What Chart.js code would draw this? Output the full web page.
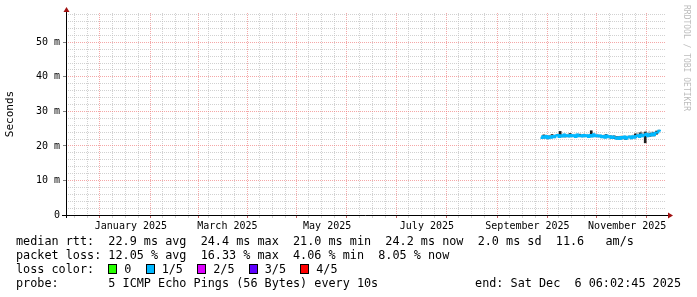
<!DOCTYPE html>
<html>
<head>
<meta charset="utf-8">
<script src="https://cdn.jsdelivr.net/npm/chart.js@4.4.1/dist/chart.umd.min.js"></script>
<style>
html, body { margin: 0; padding: 0; background: #fff; }
#wrap { position: relative; width: 697px; height: 297px; overflow: hidden; }
canvas { position: absolute; left: 0; top: 0; }
.txt { position: absolute; font: 11.8px 'DejaVu Sans Mono', monospace; line-height: 14px; white-space: pre; color: #000; }
.box { display: inline-block; width: 7px; height: 8px; border: 1px solid #000; margin-right: 7px; vertical-align: -1px; }
#mark { position: absolute; left: 682px; top: 5px; writing-mode: vertical-rl; font: 8px 'DejaVu Sans Mono', monospace; color: #bcbcbc; white-space: pre; }
</style>
</head>
<body>
<div id="wrap">
  <canvas id="myChart" width="697" height="297"></canvas>
  <div id="mark">RRDTOOL / TOBI OETIKER</div>
  <div class="txt" style="left:16px;top:234px">median rtt:  22.9 ms avg  24.4 ms max  21.0 ms min  24.2 ms now  2.0 ms sd  11.6   am/s</div>
  <div class="txt" style="left:16px;top:248px">packet loss: 12.05 % avg  16.33 % max  4.06 % min  8.05 % now</div>
  <div class="txt" style="left:16px;top:262px" id="losscolor"></div>
  <div class="txt" style="left:16px;top:276px">probe:       5 ICMP Echo Pings (56 Bytes) every 10s</div>
  <div class="txt" style="right:16px;top:276px">end: Sat Dec  6 06:02:45 2025</div>
</div>
<script>
// time axis: 360 days ending at the graph end time
const endTime = Date.UTC(2025, 11, 6, 6, 2, 45)
const spanDays = 360

const monthStarts = ['2024-12-01','2025-01-01','2025-02-01','2025-03-01','2025-04-01','2025-05-01','2025-06-01',
  '2025-07-01','2025-08-01','2025-09-01','2025-10-01','2025-11-01','2025-12-01']
const monthLabels = ['January 2025', 'March 2025', 'May 2025', 'July 2025', 'September 2025', 'November 2025']
const labelMonths = ['2025-01-01','2025-03-01','2025-05-01','2025-07-01','2025-09-01','2025-11-01']
const minorDays = [9, 17, 25]

const yMajor = [0, 10, 20, 30, 40, 50]
const yLabels = ['0', '10 m', '20 m', '30 m', '40 m', '50 m']
const yMax = 58.5

const lossNames = ['0', '1/5', '2/5', '3/5', '4/5']
const lossColors = ['#26ff00', '#00b8ff', '#dd00ff', '#5e00ff', '#ff0000']

// median rtt (ms), one sample per day
const dates = [
 '2025-09-24','2025-09-25','2025-09-26','2025-09-27','2025-09-28','2025-09-29','2025-09-30',
 '2025-10-01','2025-10-02','2025-10-03','2025-10-04','2025-10-05','2025-10-06','2025-10-07','2025-10-08','2025-10-09','2025-10-10',
 '2025-10-11','2025-10-12','2025-10-13','2025-10-14','2025-10-15','2025-10-16','2025-10-17','2025-10-18','2025-10-19','2025-10-20',
 '2025-10-21','2025-10-22','2025-10-23','2025-10-24','2025-10-25','2025-10-26','2025-10-27','2025-10-28','2025-10-29','2025-10-30','2025-10-31',
 '2025-11-01','2025-11-02','2025-11-03','2025-11-04','2025-11-05','2025-11-06','2025-11-07','2025-11-08','2025-11-09','2025-11-10',
 '2025-11-11','2025-11-12','2025-11-13','2025-11-14','2025-11-15','2025-11-16','2025-11-17','2025-11-18','2025-11-19','2025-11-20',
 '2025-11-21','2025-11-22','2025-11-23','2025-11-24','2025-11-25','2025-11-26','2025-11-27','2025-11-28','2025-11-29','2025-11-30',
 '2025-12-01','2025-12-02','2025-12-03','2025-12-04','2025-12-05','2025-12-06']
const median = [
 22.3, 22.8, 22.4, 22.9, 22.2, 22.7, 22.4,
 22.9, 22.5, 23.0, 23.2, 22.6, 23.1, 22.7, 23.3, 22.8, 23.1,
 22.7, 23.2, 22.8, 23.1, 22.6, 23.3, 22.8, 23.1, 22.7, 23.2,
 22.8, 23.1, 22.6, 23.2, 22.7, 23.4, 22.8, 23.1, 22.7, 23.0, 22.5,
 22.9, 22.4, 23.0, 22.5, 22.8, 22.3, 22.7, 22.4, 22.1, 22.5,
 22.0, 22.6, 22.2, 22.7, 22.1, 22.5, 22.7, 22.2, 22.8, 22.4,
 22.9, 23.1, 22.6, 23.3, 22.8, 23.2, 23.5, 22.8, 23.4, 23.0,
 23.6, 23.1, 23.8, 23.9, 24.4, 24.2]
const smokeHi = [
 22.9, 23.2, 23.0, 23.3, 22.8, 23.1, 23.0,
 23.3, 23.1, 23.4, 23.6, 23.2, 23.5, 23.3, 23.7, 23.4, 23.5,
 23.3, 23.6, 23.4, 23.5, 23.2, 23.7, 23.4, 23.5, 23.3, 23.6,
 23.4, 23.5, 23.2, 23.6, 23.3, 23.8, 23.4, 23.5, 23.3, 23.4, 23.1,
 23.3, 23.0, 23.4, 23.1, 23.2, 22.9, 23.1, 23.0, 22.8, 22.9,
 22.7, 23.0, 22.9, 23.1, 22.8, 23.0, 23.2, 23.0, 23.3, 23.2,
 23.6, 24.0, 23.7, 24.3, 24.0, 24.2, 24.5, 24.0, 24.4, 24.1,
 24.3, 24.0, 24.4, 24.5, 24.8, 24.7]
const smokeLo = [
 22.0, 22.3, 22.1, 22.4, 21.9, 22.2, 22.1,
 22.4, 22.2, 22.5, 22.7, 22.3, 22.6, 22.4, 22.8, 22.5, 22.6,
 22.4, 22.7, 22.5, 22.6, 22.3, 22.8, 22.5, 22.6, 22.4, 22.7,
 22.5, 22.6, 22.3, 22.7, 22.4, 22.9, 22.5, 22.6, 22.4, 22.5, 22.2,
 22.4, 22.1, 22.5, 22.2, 22.3, 22.0, 22.2, 22.1, 21.8, 22.0,
 21.7, 22.1, 21.9, 22.2, 21.8, 22.0, 22.2, 21.9, 22.3, 22.1,
 22.4, 22.6, 22.3, 22.8, 22.5, 22.7, 23.0, 22.5, 22.9, 22.7,
 23.1, 22.8, 23.3, 23.5, 23.9, 23.8]

// dark smoke streaks
const spikeDates = ['2025-09-26','2025-09-29','2025-10-01','2025-10-06','2025-10-09','2025-10-12','2025-10-18','2025-10-25',
  '2025-11-03','2025-11-06','2025-11-08','2025-11-10','2025-11-12','2025-11-15','2025-11-21','2025-11-24','2025-11-27','2025-11-30','2025-12-02','2025-12-04']
const spikeLo = [22.3, 22.2, 22.5, 22.6, 22.6, 22.8, 22.7, 22.7, 22.4, 22.2, 22.1, 22.0, 22.0, 21.9, 22.5, 22.8, 20.9, 22.8, 22.9, 23.4]
const spikeHi = [23.2, 22.9, 23.3, 24.2, 23.2, 23.6, 23.4, 24.4, 23.3, 22.9, 22.9, 22.7, 22.8, 22.6, 23.5, 23.8, 24.0, 23.6, 23.8, 24.3]

const startTime = endTime - spanDays * 86400000
function toDay(s) {
    return (Date.parse(s + 'T00:00:00Z') - startTime) / 86400000
}

// legend boxes
let lc = 'loss color:  '
lossNames.forEach((n, i) => {
    lc += '<span class="box" style="background:' + lossColors[i] + '"></span>' + n + '  '
})
document.getElementById('losscolor').innerHTML = lc

// x ticks: minor lines inside each month, major lines at month start, labels mid-month
const xTicks = []
monthStarts.forEach((m, k) => {
    const v = toDay(m)
    if (v > 0) xTicks.push({ v: v, kind: 'major', label: '' })
    minorDays.forEach(d => {
        const mv = v + d - 1
        if (mv > 0 && mv < spanDays) xTicks.push({ v: mv, kind: 'minor', label: '' })
    })
})
labelMonths.forEach((m, i) => {
    const k = monthStarts.indexOf(m)
    const mid = (toDay(monthStarts[k]) + toDay(monthStarts[k + 1])) / 2
    xTicks.push({ v: mid, kind: 'label', label: monthLabels[i] })
})

const yTicks = []
for (let v = 0; v < yMax; v += 2) yTicks.push(v)

const minorColor = 'rgba(190,190,190,0.7)'
const majorColor = 'rgba(240,120,120,0.65)'

const axesPlugin = {
    id: 'axes',
    afterDatasetsDraw(chart) {
        const { ctx, chartArea: a } = chart
        ctx.save()
        ctx.strokeStyle = '#000'
        ctx.lineWidth = 1
        ctx.beginPath()
        ctx.moveTo(a.left - 4, a.bottom + 0.5)
        ctx.lineTo(a.right + 3, a.bottom + 0.5)
        ctx.moveTo(a.left + 0.5, a.bottom + 3)
        ctx.lineTo(a.left + 0.5, a.top - 3)
        ctx.stroke()
        ctx.fillStyle = '#a01010'
        ctx.beginPath()
        ctx.moveTo(a.right + 2, a.bottom - 2.5)
        ctx.lineTo(a.right + 7, a.bottom + 0.5)
        ctx.lineTo(a.right + 2, a.bottom + 3.5)
        ctx.fill()
        ctx.beginPath()
        ctx.moveTo(a.left - 2.5, a.top - 1)
        ctx.lineTo(a.left + 0.5, a.top - 6)
        ctx.lineTo(a.left + 3.5, a.top - 1)
        ctx.fill()
        ctx.restore()
    }
}

Chart.defaults.font.family = "'DejaVu Sans Mono', monospace"

const ctx = document.getElementById('myChart')
const myChart = new Chart(ctx, {
    type: 'line',
    data: {
        datasets: [{
            label: 'median',
            data: dates.map((d, i) => ({ x: toDay(d), y: median[i] })),
            borderColor: lossColors[1],
            borderWidth: 2,
            pointRadius: 0,
            stepped: true,
            order: 0
        }, {
            type: 'bar',
            label: 'dark smoke',
            data: spikeDates.map((d, i) => ({ x: toDay(d), y: [spikeLo[i], spikeHi[i]] })),
            backgroundColor: '#1e1e1e',
            barThickness: 2,
            order: 1
        }, {
            label: 'smoke hi',
            data: dates.map((d, i) => ({ x: toDay(d), y: smokeHi[i] })),
            borderWidth: 0,
            pointRadius: 0,
            stepped: true,
            backgroundColor: 'rgba(140,140,140,0.5)',
            fill: '+1',
            order: 2
        }, {
            label: 'smoke lo',
            data: dates.map((d, i) => ({ x: toDay(d), y: smokeLo[i] })),
            borderWidth: 0,
            pointRadius: 0,
            stepped: true,
            fill: false,
            order: 3
        }]
    },
    options: {
        responsive: false,
        animation: false,
        layout: { padding: { top: 13, right: 31, left: 0, bottom: 0 } },
        plugins: { legend: { display: false }, tooltip: { enabled: false } },
        scales: {
            x: {
                type: 'linear',
                min: 0,
                max: spanDays,
                afterBuildTicks: s => { s.ticks = xTicks.map(t => ({ value: t.v })) },
                afterFit: s => { s.height = 82 },
                ticks: {
                    autoSkip: false, maxRotation: 0, minRotation: 0, padding: 2,
                    color: '#000', font: { size: 10 },
                    callback: (v, i) => xTicks[i].label
                },
                grid: {
                    lineWidth: 1,
                    tickLength: 3,
                    color: c => {
                        const t = xTicks[c.index]
                        if (!t) return minorColor
                        return t.kind == 'major' ? majorColor : (t.kind == 'minor' ? minorColor : 'rgba(0,0,0,0)')
                    },
                    tickColor: c => {
                        const t = xTicks[c.index]
                        if (!t) return minorColor
                        return t.kind == 'major' ? '#c06060' : (t.kind == 'minor' ? minorColor : 'rgba(0,0,0,0)')
                    }
                },
                border: { display: false, dash: [1, 1] }
            },
            y: {
                min: 0,
                max: yMax,
                afterBuildTicks: s => { s.ticks = yTicks.map(v => ({ value: v })) },
                afterFit: s => { s.width = 66 },
                ticks: {
                    autoSkip: false, padding: 3, color: '#000', font: { size: 10 },
                    callback: v => {
                        const k = yMajor.indexOf(v)
                        return k >= 0 ? yLabels[k] : ''
                    }
                },
                title: {
                    display: true, text: 'Seconds', color: '#000',
                    font: { size: 11 }, padding: { top: 4, bottom: 0 }
                },
                grid: {
                    lineWidth: 1,
                    tickLength: 3,
                    color: c => (c.tick && yMajor.indexOf(c.tick.value) >= 0) ? majorColor : minorColor,
                    tickColor: c => (c.tick && yMajor.indexOf(c.tick.value) >= 0) ? '#808080' : 'rgba(0,0,0,0)'
                },
                border: { display: false, dash: [1, 1] }
            }
        }
    },
    plugins: [axesPlugin]
})
</script>
</body>
</html>
